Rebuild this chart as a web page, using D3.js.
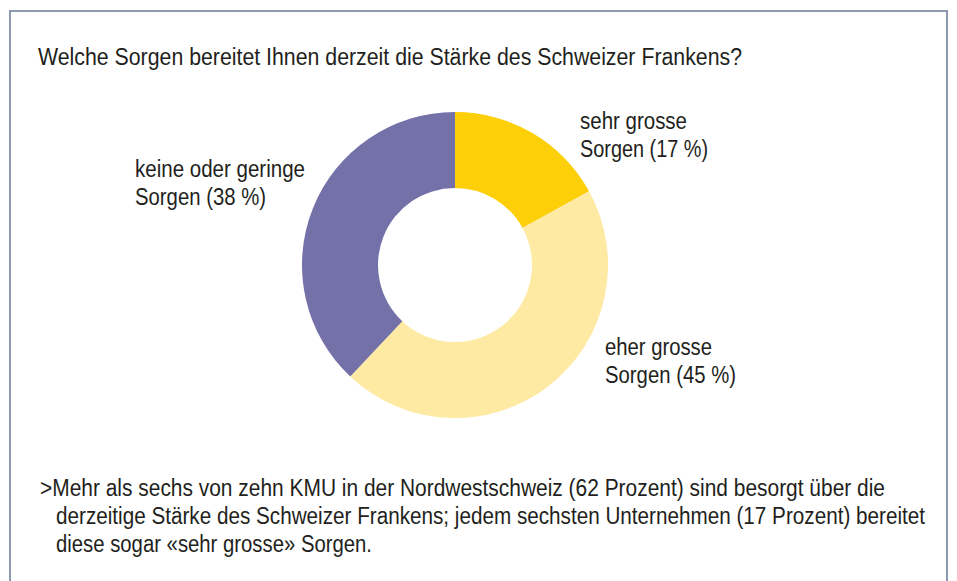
<!DOCTYPE html>
<html lang="de">
<head>
<meta charset="UTF-8">
<title>Sorgen Frankenstärke</title>
<script src="https://cdn.jsdelivr.net/npm/d3@7/dist/d3.min.js"></script>
<style>
    body { margin: 0; background: #fff; }
    svg { display: block; }
    text { font-family: "Liberation Sans", Arial, sans-serif; fill: #231f20; }
</style>
</head>
<body>
<script>
    const width = 957;
    const height = 581;

    // Daten
    const categories = ['sehr grosse Sorgen', 'eher grosse Sorgen', 'keine oder geringe Sorgen'];
    const values = [17, 45, 38];
    const colors = ['#fdcf08', '#feeaa3', '#7470a8'];
    const labelLines = [
        ['sehr grosse', 'Sorgen (17 %)'],
        ['eher grosse', 'Sorgen (45 %)'],
        ['keine oder geringe', 'Sorgen (38 %)']
    ];
    const title = 'Welche Sorgen bereitet Ihnen derzeit die Stärke des Schweizer Frankens?';
    const noteLines = [
        '>Mehr als sechs von zehn KMU in der Nordwestschweiz (62 Prozent) sind besorgt über die',
        'derzeitige Stärke des Schweizer Frankens; jedem sechsten Unternehmen (17 Prozent) bereitet',
        'diese sogar «sehr grosse» Sorgen.'
    ];

    const svg = d3.select('body').append('svg')
        .attr('width', width)
        .attr('height', height);

    // schmale Schrift nachbilden: Zeile auf Breite stauchen
    function line (x, y, s, w, size) {
        return svg.append('text')
            .attr('x', x).attr('y', y)
            .attr('textLength', w)
            .attr('lengthAdjust', 'spacingAndGlyphs')
            .style('font-size', size + 'px')
            .text(s);
    }

    // Rahmen
    svg.append('rect')
        .attr('x', 10).attr('y', 11)
        .attr('width', 937).attr('height', 600)
        .attr('fill', 'none')
        .attr('stroke', '#8d99ae')
        .attr('stroke-width', 2);

    line(38, 65, title, 704, 23.5);

    // Donut
    const cx = 455, cy = 265, outerR = 153, innerR = 77;
    const pie = d3.pie().sort(null).value(d => d);
    const arc = d3.arc().innerRadius(innerR).outerRadius(outerR);

    const g = svg.append('g').attr('transform', `translate(${cx},${cy})`);
    g.selectAll('path')
        .data(pie(values))
        .join('path')
        .attr('d', arc)
        .attr('fill', (d, i) => colors[i]);

    // Beschriftungen
    const labelPos = [
        { x: 580, y: 129, w: [107, 128] },
        { x: 605, y: 355, w: [107, 131] },
        { x: 135, y: 177, w: [170, 131] }
    ];
    labelLines.forEach((lines, i) => {
        lines.forEach((s, j) => {
            line(labelPos[i].x, labelPos[i].y + j * 28, s, labelPos[i].w[j], 23);
        });
    });

    // Kommentar
    const noteX = [40, 56, 56];
    const noteW = [845, 869, 316];
    noteLines.forEach((s, j) => {
        line(noteX[j], 496 + j * 28, s, noteW[j], 23);
    });
</script>
</body>
</html>
